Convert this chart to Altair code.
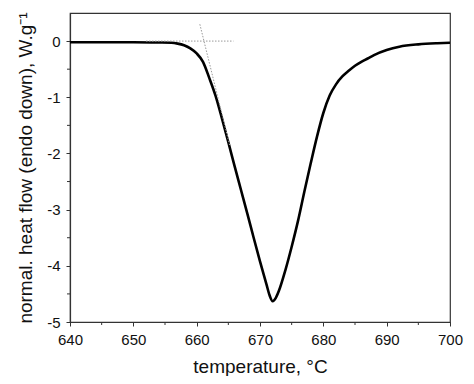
import altair as alt
import pandas as pd

# DSC curve
temp = [640, 645, 650, 654, 656, 657, 658, 659, 660, 661, 662, 663, 664, 665, 666, 667, 668, 669, 670, 671, 671.5,
        672, 672.5, 673, 674, 675, 676, 677, 678, 679, 680, 681, 682, 683, 684, 685, 686, 687, 688, 690, 692, 695, 698, 700]
flow = [-0.02, -0.02, -0.02, -0.025, -0.03, -0.045, -0.075, -0.13, -0.22, -0.37, -0.66, -0.98, -1.38, -1.8, -2.23,
        -2.65, -3.07, -3.5, -3.92, -4.32, -4.52,
        -4.63, -4.57, -4.44, -4.08, -3.66, -3.2, -2.68, -2.18, -1.7, -1.28, -0.97, -0.77, -0.63, -0.53, -0.44, -0.37,
        -0.31, -0.25, -0.16, -0.1, -0.058, -0.038, -0.03]

# construction lines (onset)
base_x = [652, 665.8]
base_y = [0, 0]
tan_x = [660.5, 665.2]
tan_y = [0.3, -1.85]

# axis ticks
major_x = [640, 650, 660, 670, 680, 690, 700]
major_y = [-5, -4, -3, -2, -1, 0]
minor_x = [645, 655, 665, 675, 685, 695]
minor_y = [-4.5, -3.5, -2.5, -1.5, -0.5]

W, H = 380, 309
FONT = "Liberation Sans"

xs = alt.Scale(domain=[640, 700], nice=False)
ys = alt.Scale(domain=[-5, 0.5], nice=False)
xax = alt.Axis(values=major_x, grid=False, tickSize=4, labelPadding=6, titlePadding=10,
               labelFlush=False, labelExpr="datum.value + ''")
yax = alt.Axis(values=major_y, grid=False, tickSize=4, labelPadding=6, titlePadding=11,
               labelFlush=False, labelExpr="datum.value + ''")
XT = "temperature, °C"
YT = "normal. heat flow (endo down), W.g⁻¹"


def X(field):
    return alt.X(field, scale=xs, axis=xax, title=XT)


def Y(field):
    return alt.Y(field, scale=ys, axis=yax, title=YT)


curve_df = pd.DataFrame({"t": temp, "f": flow})
base_df = pd.DataFrame({"t": base_x, "f": base_y})
tan_df = pd.DataFrame({"t": tan_x, "f": tan_y})
mx_df = pd.DataFrame({"t": minor_x})
my_df = pd.DataFrame({"f": minor_y})

curve = alt.Chart(curve_df).mark_line(color="black", strokeWidth=2.6, interpolate="monotone").encode(
    x=X("t:Q"), y=Y("f:Q"))

dotted = dict(color="#9a9a9a", strokeWidth=1, strokeDash=[1.5, 1.5])
base = alt.Chart(base_df).mark_line(**dotted).encode(x=X("t:Q"), y=Y("f:Q"))
tan = alt.Chart(tan_df).mark_line(**dotted).encode(x=X("t:Q"), y=Y("f:Q"))

mx = alt.Chart(mx_df).mark_rule(color="#333", strokeWidth=1).encode(
    x=X("t:Q"), y=alt.value(H), y2=alt.value(H + 3))
my = alt.Chart(my_df).mark_rule(color="#333", strokeWidth=1).encode(
    y=Y("f:Q"), x=alt.value(0), x2=alt.value(-3))

chart = alt.layer(curve, base, tan, mx, my).properties(
    width=W, height=H,
    autosize=alt.AutoSizeParams(type="none"),
    padding={"left": 62, "top": 5, "right": 16, "bottom": 54},
    background="white",
).configure_view(stroke="#333", strokeWidth=1.2).configure_axis(
    domainColor="#333", domainWidth=1.2, tickColor="#333", tickWidth=1,
    labelFont=FONT, labelFontSize=15, labelColor="#111",
    titleFont=FONT, titleFontSize=19, titleFontWeight="normal", titleColor="#111",
)

chart.save("out.html", embed_options={"renderer": "svg", "actions": False})
